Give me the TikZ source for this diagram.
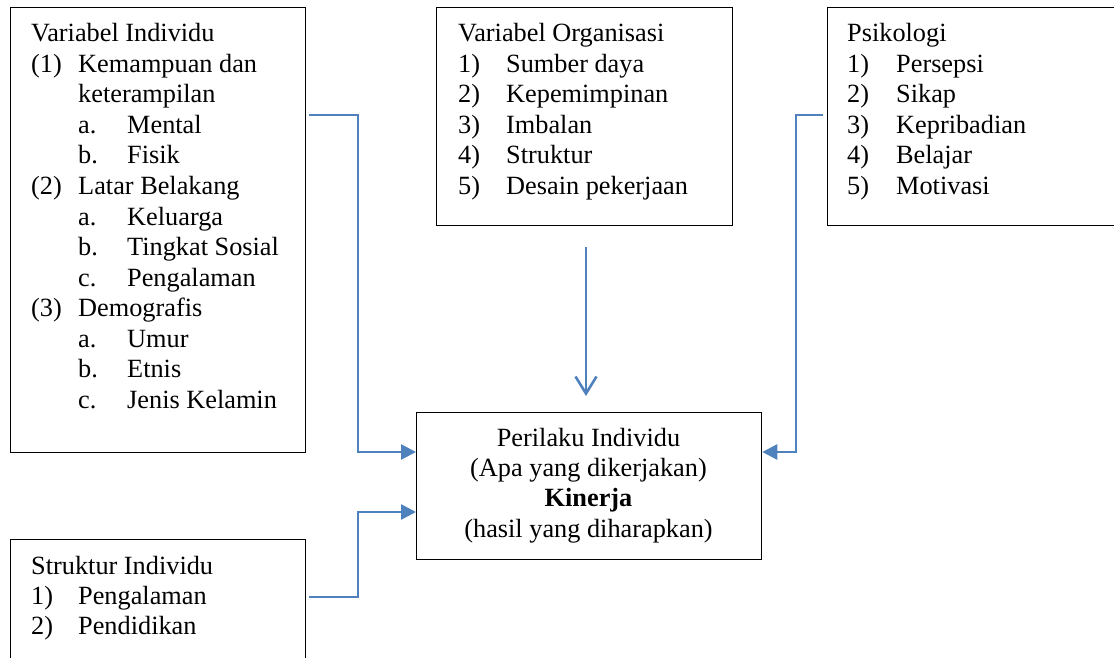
\documentclass[tikz,border=0pt]{standalone}
\usepackage{fontspec}
\setmainfont{Liberation Serif}
\usetikzlibrary{arrows.meta,calc}
\definecolor{linkblue}{RGB}{79,129,189}
\begin{document}
\begin{tikzpicture}[x=1pt,y=-1pt,
  txt/.style={anchor=base west,inner sep=0pt,font=\fontsize{26.3}{30}\selectfont},
  ctxt/.style={anchor=base,inner sep=0pt,font=\fontsize{26.3}{30}\selectfont},
  box/.style={draw=black,line width=1.3pt,anchor=north west,inner sep=0pt,fill=none},
  conn/.style={draw=linkblue,line width=2.6pt,-{Triangle[length=15pt,width=15pt]}},
  openconn/.style={draw=linkblue,line width=2.6pt,-{Straight Barb[length=17pt,width=21pt]}}]
\clip (0,0) rectangle (1114,658);
\useasboundingbox (0,0) rectangle (1114,658);
% boxes
\node[box,minimum width=295pt,minimum height=445pt] (vi) at (10,7) {};
\node[box,minimum width=296pt,minimum height=218pt] (vo) at (436,7) {};
\node[box,minimum width=300pt,minimum height=218pt] (ps) at (827,7) {};
\node[box,minimum width=345pt,minimum height=147pt] (cen) at (416,412) {};
\node[box,minimum width=295pt,minimum height=140pt] (si) at (10,539) {};
% Variabel Individu
\node[txt] (vi0) at (31,42) {Variabel Individu};
\node[txt] (vi1) at (31,72.5) {\makebox[47pt][l]{(1)}Kemampuan dan};
\node[txt] (vi2) at (78,103) {keterampilan};
\node[txt] (vi3) at (78,133.5) {\makebox[49pt][l]{a.}Mental};
\node[txt] (vi4) at (78,164) {\makebox[49pt][l]{b.}Fisik};
\node[txt] (vi5) at (31,194.5) {\makebox[47pt][l]{(2)}Latar Belakang};
\node[txt] (vi6) at (78,225) {\makebox[49pt][l]{a.}Keluarga};
\node[txt] (vi7) at (78,255.5) {\makebox[49pt][l]{b.}Tingkat Sosial};
\node[txt] (vi8) at (78,286) {\makebox[49pt][l]{c.}Pengalaman};
\node[txt] (vi9) at (31,316.5) {\makebox[47pt][l]{(3)}Demografis};
\node[txt] (vi10) at (78,347) {\makebox[49pt][l]{a.}Umur};
\node[txt] (vi11) at (78,377.5) {\makebox[49pt][l]{b.}Etnis};
\node[txt] (vi12) at (78,408) {\makebox[49pt][l]{c.}Jenis Kelamin};
% Variabel Organisasi
\node[txt] (vo0) at (458,42) {Variabel Organisasi};
\node[txt] (vo1) at (458,72.5) {\makebox[48pt][l]{1)}Sumber daya};
\node[txt] (vo2) at (458,103) {\makebox[48pt][l]{2)}Kepemimpinan};
\node[txt] (vo3) at (458,133.5) {\makebox[48pt][l]{3)}Imbalan};
\node[txt] (vo4) at (458,164) {\makebox[48pt][l]{4)}Struktur};
\node[txt] (vo5) at (458,194.5) {\makebox[48pt][l]{5)}Desain pekerjaan};
% Psikologi
\node[txt] (ps0) at (847,42) {Psikologi};
\node[txt] (ps1) at (847,72.5) {\makebox[49pt][l]{1)}Persepsi};
\node[txt] (ps2) at (847,103) {\makebox[49pt][l]{2)}Sikap};
\node[txt] (ps3) at (847,133.5) {\makebox[49pt][l]{3)}Kepribadian};
\node[txt] (ps4) at (847,164) {\makebox[49pt][l]{4)}Belajar};
\node[txt] (ps5) at (847,194.5) {\makebox[49pt][l]{5)}Motivasi};
% Struktur Individu
\node[txt] (si0) at (31,574) {Struktur Individu};
\node[txt] (si1) at (31,604) {\makebox[47pt][l]{1)}Pengalaman};
\node[txt] (si2) at (31,634) {\makebox[47pt][l]{2)}Pendidikan};
% centre
\node[ctxt] (c0) at (588.5,446) {Perilaku Individu};
\node[ctxt] (c1) at (588.5,476) {(Apa yang dikerjakan)};
\node[ctxt] (c2) at (588.5,506.5) {\bfseries Kinerja};
\node[ctxt] (c3) at (588.5,537) {(hasil yang diharapkan)};
% connectors
\coordinate (voout) at (586,247);
\coordinate (voin) at (586,396);
\draw[conn] ($(vi.north east)+(3,108)$) -- (358,115) -- (358,452) -- (cen.west |- 0,452);
\draw[conn] ($(si.north east)+(3,58)$) -- (358,597) -- (358,512) -- (cen.west |- 0,512);
\draw[conn] ($(ps.north west)+(-4,108)$) -- (796,115) -- (796,452) -- (cen.east |- 0,452);
\draw[openconn] (voout) -- (voin);
\end{tikzpicture}
\end{document}
